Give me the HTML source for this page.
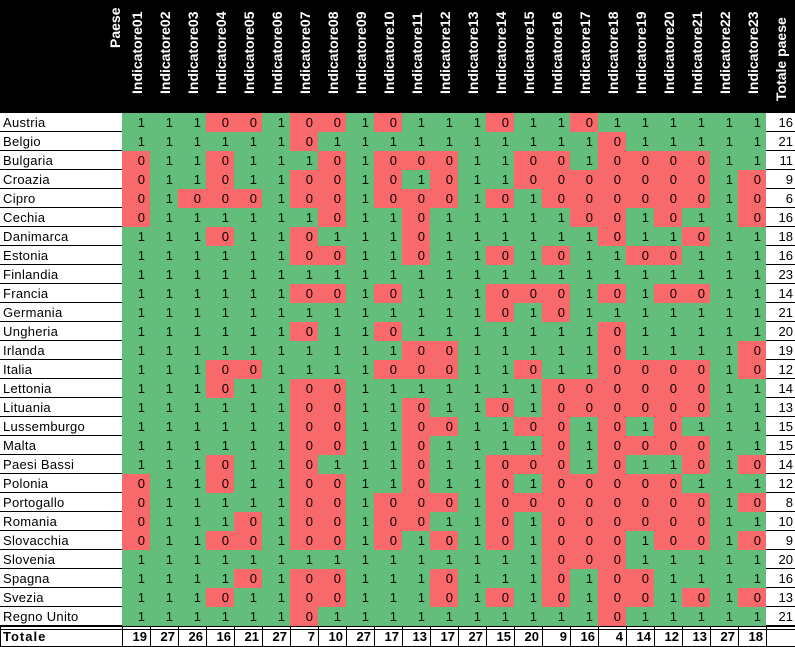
<!DOCTYPE html>
<html><head><meta charset="utf-8"><style>
body{margin:0;background:#fff;width:795px;height:645px;overflow:hidden}
table{border-collapse:collapse;border-spacing:0;table-layout:fixed;width:795px;font-family:"Liberation Sans",Arial,sans-serif;font-size:13px}
td{height:19px;padding:0 5px 0 0;border:none;text-align:right;line-height:19px;white-space:nowrap;overflow:hidden}
td.c,td.t{background:linear-gradient(#000,#000) left bottom/100% 1px no-repeat,#fff}
td.c{text-align:left;padding-left:3px;letter-spacing:0.3px}
td.t{padding-right:2px}
.g{background:#63be7b}.r{background:#f8696b}
tr.h td{height:113px;background:#000;color:#fff;font-weight:bold;vertical-align:top;padding:0;position:relative}
.v{position:absolute;transform:rotate(-90deg);transform-origin:left top;white-space:nowrap;font-size:14px}
tr.tot td{font-weight:bold;height:19px;padding-right:3px;background:linear-gradient(#000,#000) left top/100% 1px no-repeat,linear-gradient(#000,#000) left 3px/100% 1px no-repeat,linear-gradient(#000,#000) left bottom/100% 1px no-repeat,linear-gradient(#000,#000) left top/1px 100% no-repeat,#fff;line-height:21px}
tr.tot td.c{letter-spacing:1px}
</style></head><body>
<table>
<colgroup><col style="width:122px"><col span="23" style="width:28px"><col style="width:29px"></colgroup>
<tr class="h"><td><span class="v" style="left:106px;top:48px">Paese</span></td>
<td><span class="v" style="left:6px;top:94px">Indicatore01</span></td>
<td><span class="v" style="left:6px;top:94px">Indicatore02</span></td>
<td><span class="v" style="left:6px;top:94px">Indicatore03</span></td>
<td><span class="v" style="left:6px;top:94px">Indicatore04</span></td>
<td><span class="v" style="left:6px;top:94px">Indicatore05</span></td>
<td><span class="v" style="left:6px;top:94px">Indicatore06</span></td>
<td><span class="v" style="left:6px;top:94px">Indicatore07</span></td>
<td><span class="v" style="left:6px;top:94px">Indicatore08</span></td>
<td><span class="v" style="left:6px;top:94px">Indicatore09</span></td>
<td><span class="v" style="left:6px;top:94px">Indicatore10</span></td>
<td><span class="v" style="left:6px;top:94px">Indicatore11</span></td>
<td><span class="v" style="left:6px;top:94px">Indicatore12</span></td>
<td><span class="v" style="left:6px;top:94px">Indicatore13</span></td>
<td><span class="v" style="left:6px;top:94px">Indicatore14</span></td>
<td><span class="v" style="left:6px;top:94px">Indicatore15</span></td>
<td><span class="v" style="left:6px;top:94px">Indicatore16</span></td>
<td><span class="v" style="left:6px;top:94px">Indicatore17</span></td>
<td><span class="v" style="left:6px;top:94px">Indicatore18</span></td>
<td><span class="v" style="left:6px;top:94px">Indicatore19</span></td>
<td><span class="v" style="left:6px;top:94px">Indicatore20</span></td>
<td><span class="v" style="left:6px;top:94px">Indicatore21</span></td>
<td><span class="v" style="left:6px;top:94px">Indicatore22</span></td>
<td><span class="v" style="left:6px;top:94px">Indicatore23</span></td>
<td><span class="v" style="left:6px;top:101px">Totale paese</span></td></tr>
<tr><td class="c">Austria</td><td class="g">1</td><td class="g">1</td><td class="g">1</td><td class="r">0</td><td class="r">0</td><td class="g">1</td><td class="r">0</td><td class="r">0</td><td class="g">1</td><td class="r">0</td><td class="g">1</td><td class="g">1</td><td class="g">1</td><td class="r">0</td><td class="g">1</td><td class="g">1</td><td class="r">0</td><td class="g">1</td><td class="g">1</td><td class="g">1</td><td class="g">1</td><td class="g">1</td><td class="g">1</td><td class="t">16</td></tr>
<tr><td class="c">Belgio</td><td class="g">1</td><td class="g">1</td><td class="g">1</td><td class="g">1</td><td class="g">1</td><td class="g">1</td><td class="r">0</td><td class="g">1</td><td class="g">1</td><td class="g">1</td><td class="g">1</td><td class="g">1</td><td class="g">1</td><td class="g">1</td><td class="g">1</td><td class="g">1</td><td class="g">1</td><td class="r">0</td><td class="g">1</td><td class="g">1</td><td class="g">1</td><td class="g">1</td><td class="g">1</td><td class="t">21</td></tr>
<tr><td class="c">Bulgaria</td><td class="r">0</td><td class="g">1</td><td class="g">1</td><td class="r">0</td><td class="g">1</td><td class="g">1</td><td class="g">1</td><td class="r">0</td><td class="g">1</td><td class="r">0</td><td class="r">0</td><td class="r">0</td><td class="g">1</td><td class="g">1</td><td class="r">0</td><td class="r">0</td><td class="g">1</td><td class="r">0</td><td class="r">0</td><td class="r">0</td><td class="r">0</td><td class="g">1</td><td class="g">1</td><td class="t">11</td></tr>
<tr><td class="c">Croazia</td><td class="r">0</td><td class="g">1</td><td class="g">1</td><td class="r">0</td><td class="g">1</td><td class="g">1</td><td class="r">0</td><td class="r">0</td><td class="g">1</td><td class="r">0</td><td class="g">1</td><td class="r">0</td><td class="g">1</td><td class="g">1</td><td class="r">0</td><td class="r">0</td><td class="r">0</td><td class="r">0</td><td class="r">0</td><td class="r">0</td><td class="r">0</td><td class="g">1</td><td class="r">0</td><td class="t">9</td></tr>
<tr><td class="c">Cipro</td><td class="r">0</td><td class="g">1</td><td class="r">0</td><td class="r">0</td><td class="r">0</td><td class="g">1</td><td class="r">0</td><td class="r">0</td><td class="g">1</td><td class="r">0</td><td class="r">0</td><td class="r">0</td><td class="g">1</td><td class="r">0</td><td class="g">1</td><td class="r">0</td><td class="r">0</td><td class="r">0</td><td class="r">0</td><td class="r">0</td><td class="r">0</td><td class="g">1</td><td class="r">0</td><td class="t">6</td></tr>
<tr><td class="c">Cechia</td><td class="r">0</td><td class="g">1</td><td class="g">1</td><td class="g">1</td><td class="g">1</td><td class="g">1</td><td class="g">1</td><td class="r">0</td><td class="g">1</td><td class="g">1</td><td class="r">0</td><td class="g">1</td><td class="g">1</td><td class="g">1</td><td class="g">1</td><td class="g">1</td><td class="r">0</td><td class="r">0</td><td class="g">1</td><td class="r">0</td><td class="g">1</td><td class="g">1</td><td class="r">0</td><td class="t">16</td></tr>
<tr><td class="c">Danimarca</td><td class="g">1</td><td class="g">1</td><td class="g">1</td><td class="r">0</td><td class="g">1</td><td class="g">1</td><td class="r">0</td><td class="g">1</td><td class="g">1</td><td class="g">1</td><td class="r">0</td><td class="g">1</td><td class="g">1</td><td class="g">1</td><td class="g">1</td><td class="g">1</td><td class="g">1</td><td class="r">0</td><td class="g">1</td><td class="g">1</td><td class="r">0</td><td class="g">1</td><td class="g">1</td><td class="t">18</td></tr>
<tr><td class="c">Estonia</td><td class="g">1</td><td class="g">1</td><td class="g">1</td><td class="g">1</td><td class="g">1</td><td class="g">1</td><td class="r">0</td><td class="r">0</td><td class="g">1</td><td class="g">1</td><td class="r">0</td><td class="g">1</td><td class="g">1</td><td class="r">0</td><td class="g">1</td><td class="r">0</td><td class="g">1</td><td class="g">1</td><td class="r">0</td><td class="r">0</td><td class="g">1</td><td class="g">1</td><td class="g">1</td><td class="t">16</td></tr>
<tr><td class="c">Finlandia</td><td class="g">1</td><td class="g">1</td><td class="g">1</td><td class="g">1</td><td class="g">1</td><td class="g">1</td><td class="g">1</td><td class="g">1</td><td class="g">1</td><td class="g">1</td><td class="g">1</td><td class="g">1</td><td class="g">1</td><td class="g">1</td><td class="g">1</td><td class="g">1</td><td class="g">1</td><td class="g">1</td><td class="g">1</td><td class="g">1</td><td class="g">1</td><td class="g">1</td><td class="g">1</td><td class="t">23</td></tr>
<tr><td class="c">Francia</td><td class="g">1</td><td class="g">1</td><td class="g">1</td><td class="g">1</td><td class="g">1</td><td class="g">1</td><td class="r">0</td><td class="r">0</td><td class="g">1</td><td class="r">0</td><td class="g">1</td><td class="g">1</td><td class="g">1</td><td class="r">0</td><td class="r">0</td><td class="r">0</td><td class="g">1</td><td class="r">0</td><td class="g">1</td><td class="r">0</td><td class="r">0</td><td class="g">1</td><td class="g">1</td><td class="t">14</td></tr>
<tr><td class="c">Germania</td><td class="g">1</td><td class="g">1</td><td class="g">1</td><td class="g">1</td><td class="g">1</td><td class="g">1</td><td class="g">1</td><td class="g">1</td><td class="g">1</td><td class="g">1</td><td class="g">1</td><td class="g">1</td><td class="g">1</td><td class="r">0</td><td class="g">1</td><td class="r">0</td><td class="g">1</td><td class="g">1</td><td class="g">1</td><td class="g">1</td><td class="g">1</td><td class="g">1</td><td class="g">1</td><td class="t">21</td></tr>
<tr><td class="c">Ungheria</td><td class="g">1</td><td class="g">1</td><td class="g">1</td><td class="g">1</td><td class="g">1</td><td class="g">1</td><td class="r">0</td><td class="g">1</td><td class="g">1</td><td class="r">0</td><td class="g">1</td><td class="g">1</td><td class="g">1</td><td class="g">1</td><td class="g">1</td><td class="g">1</td><td class="g">1</td><td class="r">0</td><td class="g">1</td><td class="g">1</td><td class="g">1</td><td class="g">1</td><td class="g">1</td><td class="t">20</td></tr>
<tr><td class="c">Irlanda</td><td class="g">1</td><td class="g">1</td><td class="g">1</td><td class="g">1</td><td class="g">1</td><td class="g">1</td><td class="g">1</td><td class="g">1</td><td class="g">1</td><td class="g">1</td><td class="r">0</td><td class="r">0</td><td class="g">1</td><td class="g">1</td><td class="g">1</td><td class="g">1</td><td class="g">1</td><td class="r">0</td><td class="g">1</td><td class="g">1</td><td class="g">1</td><td class="g">1</td><td class="r">0</td><td class="t">19</td></tr>
<tr><td class="c">Italia</td><td class="g">1</td><td class="g">1</td><td class="g">1</td><td class="r">0</td><td class="r">0</td><td class="g">1</td><td class="g">1</td><td class="g">1</td><td class="g">1</td><td class="r">0</td><td class="r">0</td><td class="r">0</td><td class="g">1</td><td class="g">1</td><td class="r">0</td><td class="g">1</td><td class="g">1</td><td class="r">0</td><td class="r">0</td><td class="r">0</td><td class="r">0</td><td class="g">1</td><td class="r">0</td><td class="t">12</td></tr>
<tr><td class="c">Lettonia</td><td class="g">1</td><td class="g">1</td><td class="g">1</td><td class="r">0</td><td class="g">1</td><td class="g">1</td><td class="r">0</td><td class="r">0</td><td class="g">1</td><td class="g">1</td><td class="g">1</td><td class="g">1</td><td class="g">1</td><td class="g">1</td><td class="g">1</td><td class="r">0</td><td class="r">0</td><td class="r">0</td><td class="r">0</td><td class="r">0</td><td class="r">0</td><td class="g">1</td><td class="g">1</td><td class="t">14</td></tr>
<tr><td class="c">Lituania</td><td class="g">1</td><td class="g">1</td><td class="g">1</td><td class="g">1</td><td class="g">1</td><td class="g">1</td><td class="r">0</td><td class="r">0</td><td class="g">1</td><td class="g">1</td><td class="r">0</td><td class="g">1</td><td class="g">1</td><td class="r">0</td><td class="g">1</td><td class="r">0</td><td class="r">0</td><td class="r">0</td><td class="r">0</td><td class="r">0</td><td class="r">0</td><td class="g">1</td><td class="g">1</td><td class="t">13</td></tr>
<tr><td class="c">Lussemburgo</td><td class="g">1</td><td class="g">1</td><td class="g">1</td><td class="g">1</td><td class="g">1</td><td class="g">1</td><td class="r">0</td><td class="r">0</td><td class="g">1</td><td class="g">1</td><td class="r">0</td><td class="r">0</td><td class="g">1</td><td class="g">1</td><td class="r">0</td><td class="r">0</td><td class="g">1</td><td class="r">0</td><td class="g">1</td><td class="r">0</td><td class="g">1</td><td class="g">1</td><td class="g">1</td><td class="t">15</td></tr>
<tr><td class="c">Malta</td><td class="g">1</td><td class="g">1</td><td class="g">1</td><td class="g">1</td><td class="g">1</td><td class="g">1</td><td class="r">0</td><td class="r">0</td><td class="g">1</td><td class="g">1</td><td class="r">0</td><td class="g">1</td><td class="g">1</td><td class="g">1</td><td class="g">1</td><td class="r">0</td><td class="g">1</td><td class="r">0</td><td class="r">0</td><td class="r">0</td><td class="r">0</td><td class="g">1</td><td class="g">1</td><td class="t">15</td></tr>
<tr><td class="c">Paesi Bassi</td><td class="g">1</td><td class="g">1</td><td class="g">1</td><td class="r">0</td><td class="g">1</td><td class="g">1</td><td class="r">0</td><td class="g">1</td><td class="g">1</td><td class="g">1</td><td class="r">0</td><td class="g">1</td><td class="g">1</td><td class="r">0</td><td class="r">0</td><td class="r">0</td><td class="g">1</td><td class="r">0</td><td class="g">1</td><td class="g">1</td><td class="r">0</td><td class="g">1</td><td class="r">0</td><td class="t">14</td></tr>
<tr><td class="c">Polonia</td><td class="r">0</td><td class="g">1</td><td class="g">1</td><td class="r">0</td><td class="g">1</td><td class="g">1</td><td class="r">0</td><td class="r">0</td><td class="g">1</td><td class="g">1</td><td class="r">0</td><td class="g">1</td><td class="g">1</td><td class="r">0</td><td class="g">1</td><td class="r">0</td><td class="r">0</td><td class="r">0</td><td class="r">0</td><td class="r">0</td><td class="g">1</td><td class="g">1</td><td class="g">1</td><td class="t">12</td></tr>
<tr><td class="c">Portogallo</td><td class="r">0</td><td class="g">1</td><td class="g">1</td><td class="g">1</td><td class="g">1</td><td class="g">1</td><td class="r">0</td><td class="r">0</td><td class="g">1</td><td class="r">0</td><td class="r">0</td><td class="r">0</td><td class="g">1</td><td class="r">0</td><td class="r">0</td><td class="r">0</td><td class="r">0</td><td class="r">0</td><td class="r">0</td><td class="r">0</td><td class="r">0</td><td class="g">1</td><td class="r">0</td><td class="t">8</td></tr>
<tr><td class="c">Romania</td><td class="r">0</td><td class="g">1</td><td class="g">1</td><td class="g">1</td><td class="r">0</td><td class="g">1</td><td class="r">0</td><td class="r">0</td><td class="g">1</td><td class="r">0</td><td class="r">0</td><td class="g">1</td><td class="g">1</td><td class="r">0</td><td class="g">1</td><td class="r">0</td><td class="r">0</td><td class="r">0</td><td class="r">0</td><td class="r">0</td><td class="r">0</td><td class="g">1</td><td class="g">1</td><td class="t">10</td></tr>
<tr><td class="c">Slovacchia</td><td class="r">0</td><td class="g">1</td><td class="g">1</td><td class="r">0</td><td class="r">0</td><td class="g">1</td><td class="r">0</td><td class="r">0</td><td class="g">1</td><td class="r">0</td><td class="g">1</td><td class="r">0</td><td class="g">1</td><td class="r">0</td><td class="g">1</td><td class="r">0</td><td class="r">0</td><td class="r">0</td><td class="g">1</td><td class="r">0</td><td class="r">0</td><td class="g">1</td><td class="r">0</td><td class="t">9</td></tr>
<tr><td class="c">Slovenia</td><td class="g">1</td><td class="g">1</td><td class="g">1</td><td class="g">1</td><td class="g">1</td><td class="g">1</td><td class="g">1</td><td class="g">1</td><td class="g">1</td><td class="g">1</td><td class="g">1</td><td class="g">1</td><td class="g">1</td><td class="g">1</td><td class="g">1</td><td class="r">0</td><td class="r">0</td><td class="r">0</td><td class="g">1</td><td class="g">1</td><td class="g">1</td><td class="g">1</td><td class="g">1</td><td class="t">20</td></tr>
<tr><td class="c">Spagna</td><td class="g">1</td><td class="g">1</td><td class="g">1</td><td class="g">1</td><td class="r">0</td><td class="g">1</td><td class="r">0</td><td class="r">0</td><td class="g">1</td><td class="g">1</td><td class="g">1</td><td class="r">0</td><td class="g">1</td><td class="g">1</td><td class="g">1</td><td class="r">0</td><td class="g">1</td><td class="r">0</td><td class="r">0</td><td class="g">1</td><td class="g">1</td><td class="g">1</td><td class="g">1</td><td class="t">16</td></tr>
<tr><td class="c">Svezia</td><td class="g">1</td><td class="g">1</td><td class="g">1</td><td class="r">0</td><td class="g">1</td><td class="g">1</td><td class="r">0</td><td class="r">0</td><td class="g">1</td><td class="g">1</td><td class="g">1</td><td class="r">0</td><td class="g">1</td><td class="r">0</td><td class="g">1</td><td class="r">0</td><td class="g">1</td><td class="r">0</td><td class="r">0</td><td class="g">1</td><td class="r">0</td><td class="g">1</td><td class="r">0</td><td class="t">13</td></tr>
<tr><td class="c">Regno Unito</td><td class="g">1</td><td class="g">1</td><td class="g">1</td><td class="g">1</td><td class="g">1</td><td class="g">1</td><td class="r">0</td><td class="g">1</td><td class="g">1</td><td class="g">1</td><td class="g">1</td><td class="g">1</td><td class="g">1</td><td class="g">1</td><td class="g">1</td><td class="g">1</td><td class="g">1</td><td class="r">0</td><td class="g">1</td><td class="g">1</td><td class="g">1</td><td class="g">1</td><td class="g">1</td><td class="t">21</td></tr>
<tr class="tot"><td class="c">Totale</td><td>19</td><td>27</td><td>26</td><td>16</td><td>21</td><td>27</td><td>7</td><td>10</td><td>27</td><td>17</td><td>13</td><td>17</td><td>27</td><td>15</td><td>20</td><td>9</td><td>16</td><td>4</td><td>14</td><td>12</td><td>13</td><td>27</td><td>18</td><td></td></tr>
</table>
</body></html>
